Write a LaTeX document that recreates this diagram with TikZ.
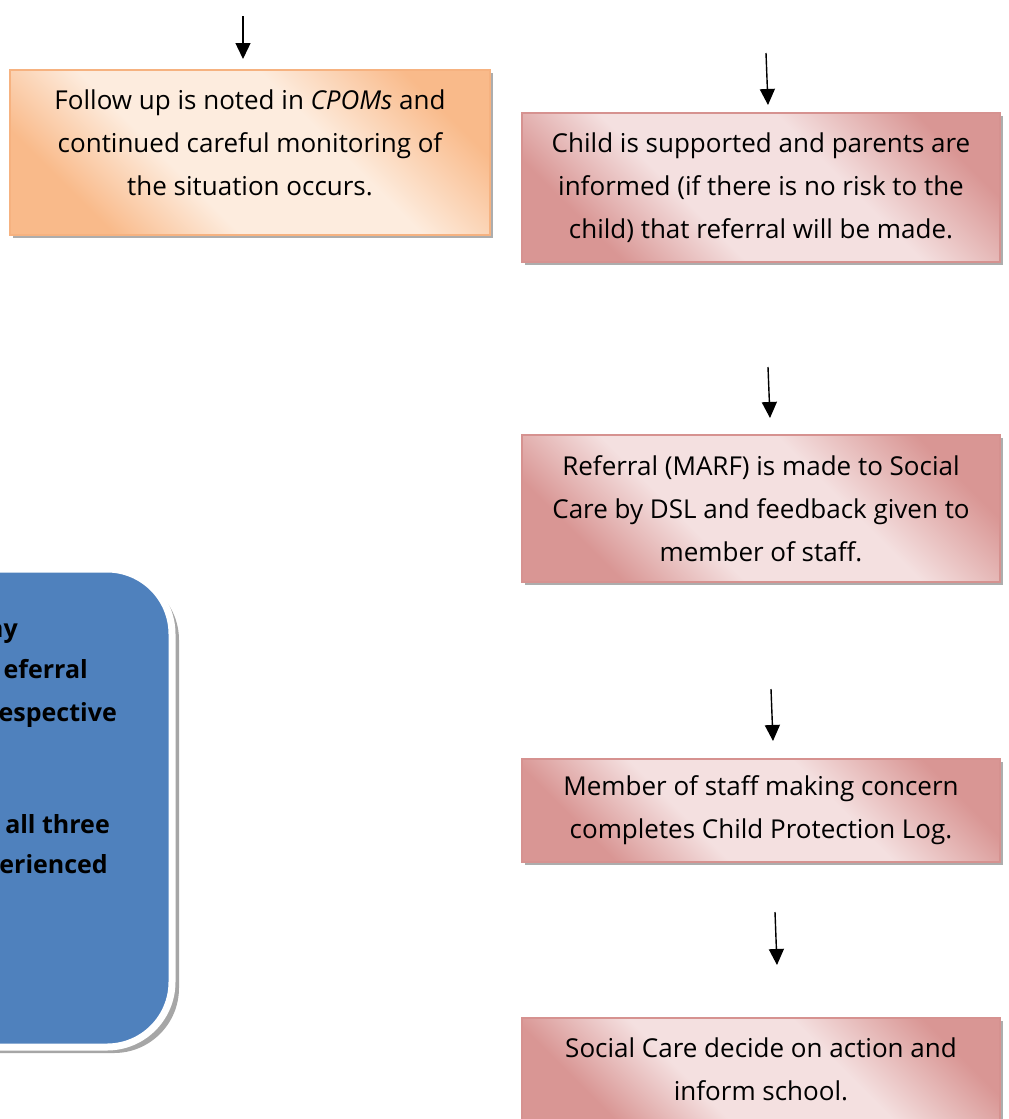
\documentclass[tikz,border=0pt]{standalone}
\usepackage{fontspec}
\setmainfont{Open Sans}
\usetikzlibrary{arrows.meta,shadows}

\definecolor{peach}{RGB}{249,186,138}
\definecolor{peachlight}{RGB}{253,236,222}
\definecolor{peachedge}{RGB}{246,178,128}
\definecolor{rose}{RGB}{217,150,148}
\definecolor{roselight}{RGB}{244,224,224}
\definecolor{roseedge}{RGB}{214,146,144}
\definecolor{steel}{RGB}{79,129,189}

\pgfdeclarehorizontalshading{peachband}{100bp}{color(0bp)=(peach); color(26bp)=(peach); color(40bp)=(peachlight); color(60bp)=(peachlight); color(76bp)=(peach); color(100bp)=(peach)}
\pgfdeclarehorizontalshading{roseband}{100bp}{color(0bp)=(rose); color(26bp)=(rose); color(40bp)=(roselight); color(60bp)=(roselight); color(76bp)=(rose); color(100bp)=(rose)}

\tikzset{
  arr/.style={line width=1.4pt,-{Triangle[length=16pt,width=15pt]}},
  card/.style={rectangle,inner sep=0pt,align=center,font=\fontsize{26}{43}\selectfont,
    shade,shading angle=45,line width=1.5pt,
    drop shadow={shadow xshift=3pt,shadow yshift=-3pt,fill=black!40,opacity=0.8}},
  peachcard/.style={card,draw=peachedge,shading=peachband},
  rosecard/.style={card,draw=roseedge,shading=roseband},
  note/.style={anchor=base east,inner sep=0pt,font=\bfseries\fontsize{25}{30}\selectfont}
}

\begin{document}
\begin{tikzpicture}[x=1pt,y=-1pt]
\useasboundingbox (0,0) rectangle (1009,1119);
\clip (0,0) rectangle (1009,1119);

\fill[black!35,rounded corners=65] (-300,575) rectangle (179,1053);
\filldraw[fill=steel,draw=white,line width=7pt,rounded corners=65] (-300,569) rectangle (172,1047);

\node[note] (ay) at (18,637) {ay};
\node[note] (referral) at (88,678) {eferral};
\node[note] (respective) at (117,721) {espective};
\node[note] (allthree) at (110,833) {all three};
\node[note] (experienced) at (108,873) {erienced};

\node[peachcard,minimum width=480,minimum height=165,text depth=20pt] (followup) at (250,152.5)
  {Follow up is noted in \textit{CPOMs} and\\continued careful monitoring of\\the situation occurs.};
\node[rosecard,minimum width=478,minimum height=149] (supported) at (761,187.5)
  {Child is supported and parents are\\informed (if there is no risk to the\\child) that referral will be made.};
\node[rosecard,minimum width=478,minimum height=147] (marf) at (761,508.5)
  {Referral (MARF) is made to Social\\Care by DSL and feedback given to\\member of staff.};
\node[rosecard,minimum width=478,minimum height=103] (log) at (761,810.5)
  {Member of staff making concern\\completes Child Protection Log.};
\node[rosecard,minimum width=478,minimum height=103] (decide) at (761,1069.5)
  {Social Care decide on action and\\inform school.};

\coordinate (a0) at (243,16);
\coordinate (b0) at (243,59);
\coordinate (a1) at (766,53);
\coordinate (b1) at (768,105);
\coordinate (a2) at (768,367);
\coordinate (b2) at (770,418);
\coordinate (a3) at (771,689);
\coordinate (b3) at (773,741);
\coordinate (a4) at (775,912);
\coordinate (b4) at (777,965);

\draw[arr] (a0) -- (b0);
\draw[arr] (a1) -- (b1);
\draw[arr] (a2) -- (b2);
\draw[arr] (a3) -- (b3);
\draw[arr] (a4) -- (b4);

\end{tikzpicture}
\end{document}
